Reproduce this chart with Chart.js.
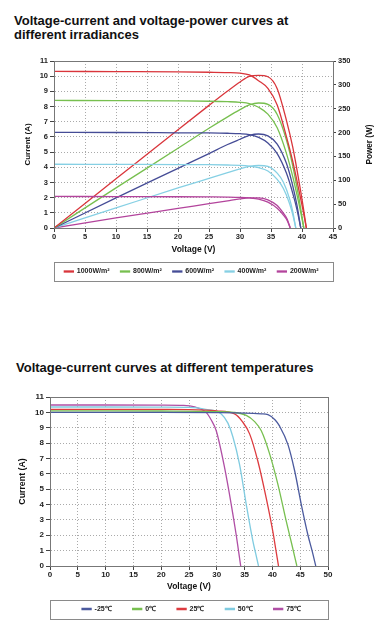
<!DOCTYPE html>
<html>
<head>
<meta charset="utf-8">
<script src="https://cdn.jsdelivr.net/npm/chart.js@4.4.1/dist/chart.umd.min.js"></script>
<style>
body { margin: 0; background: #fff; width: 383px; height: 630px; overflow: hidden; font-family: "Liberation Sans", Arial, sans-serif; }
.title { position: absolute; font-weight: bold; font-size: 13px; line-height: 13.5px; color: #111; white-space: nowrap; }
.box { position: absolute; left: 0; width: 383px; }
</style>
</head>
<body>
<div class="title" style="left:14px;top:14px">Voltage-current and voltage-power curves at<br>different irradiances</div>
<div class="box" style="top:45px;height:240px"><canvas id="irrChart"></canvas></div>
<div class="title" style="left:16px;top:361px">Voltage-current curves at different temperatures</div>
<div class="box" style="top:385px;height:240px"><canvas id="tempChart"></canvas></div>

<script>
// ---- irradiance chart data (voltage V, current A, power W) ----
const irrLabels = ["1000W/m²", "800W/m²", "600W/m²", "400W/m²", "200W/m²"];
const irrColors = ["#d9353b", "#77bf4f", "#454c96", "#86d0e4", "#b3449c"];

const v1000 = [0, 10, 20, 25, 28, 30, 31.5, 33, 34.5, 36, 37.5, 38.5, 39.5, 40.2, 40.7];
const i1000 = [10.32, 10.3, 10.28, 10.26, 10.24, 10.2, 10.08, 9.7, 9.2, 8.1, 6.0, 4.4, 2.5, 1.1, 0];
const p1000 = [0, 103, 206, 257, 287, 306, 318, 320, 317, 292, 225, 170, 99, 44, 0];

const v800 = [0, 10, 20, 25, 28, 30, 31.5, 33, 34.5, 36, 37.5, 38.5, 39.5, 40.3];
const i800 = [8.4, 8.39, 8.37, 8.35, 8.32, 8.28, 8.2, 7.95, 7.5, 6.6, 4.9, 3.4, 1.6, 0];
const p800 = [0, 84, 167, 209, 233, 248, 258, 262, 259, 238, 184, 131, 63, 0];

const v600 = [0, 10, 20, 25, 28, 30, 31.5, 33, 34.5, 36, 37.5, 38.5, 39.2, 39.8];
const i600 = [6.3, 6.29, 6.27, 6.26, 6.24, 6.21, 6.15, 5.97, 5.6, 4.9, 3.6, 2.3, 1.2, 0];
const p600 = [0, 63, 125, 156, 175, 186, 194, 197, 193, 176, 135, 89, 47, 0];

const v400 = [0, 10, 20, 25, 28, 30, 31.5, 33, 34.5, 36, 37, 38, 38.5, 39];
const i400 = [4.2, 4.19, 4.18, 4.17, 4.15, 4.13, 4.08, 3.97, 3.75, 3.2, 2.6, 1.6, 0.9, 0];
const p400 = [0, 42, 84, 104, 116, 124, 129, 131, 129, 115, 96, 61, 35, 0];

const v200 = [0, 10, 20, 25, 28, 30, 31.5, 33, 34.5, 36, 37, 37.6, 38.1];
const i200 = [2.08, 2.07, 2.06, 2.05, 2.04, 2.02, 1.98, 1.9, 1.7, 1.3, 0.85, 0.5, 0];
const p200 = [0, 21, 41, 51, 57, 61, 63, 63, 59, 47, 31, 19, 0];

// ---- temperature chart data ----
const tempLabels = ["-25℃", "0℃", "25℃", "50℃", "75℃"];
const tempColors = ["#4b5a9e", "#77bf4f", "#dd3b3f", "#7fcbe0", "#b04fa5"];

const vMinus25 = [0, 10, 20, 30, 35, 38, 39.2, 40.5, 41.3, 42.8, 44.0, 45.2, 46.4, 47.2, 47.8];
const iMinus25 = [10.0, 10.0, 10.0, 9.98, 9.95, 9.9, 9.85, 9.5, 9.1, 7.9, 6.2, 4.0, 2.0, 0.9, 0];
const v0 = [0, 10, 20, 30, 33, 35.3, 36.8, 38.0, 39.5, 41.0, 42.5, 43.5, 44.4];
const i0 = [10.1, 10.1, 10.09, 10.05, 10.0, 9.8, 9.4, 8.8, 7.3, 5.3, 2.9, 1.4, 0];
const v25 = [0, 10, 20, 25, 30, 33.2, 34.6, 35.9, 37.4, 38.9, 40.1, 40.6, 41.1];
const i25 = [10.2, 10.2, 10.19, 10.18, 10.1, 9.9, 9.4, 8.6, 6.8, 4.4, 2.2, 1.1, 0];
const v50 = [0, 10, 20, 25, 28, 30.8, 32.0, 32.9, 34.1, 35.3, 36.5, 37.0, 37.5];
const i50 = [10.35, 10.35, 10.34, 10.32, 10.2, 9.9, 9.3, 8.4, 6.6, 4.0, 1.6, 0.8, 0];
const v75 = [0, 10, 20, 24, 26, 28.1, 29.0, 29.9, 31.4, 32.6, 33.5, 33.9, 34.3];
const i75 = [10.48, 10.48, 10.47, 10.45, 10.35, 10.0, 9.5, 8.8, 6.4, 4.0, 2.0, 1.0, 0];

const FONT = "'Liberation Sans', Arial, sans-serif";

function pts(xs, ys) {
    return xs.map((x, k) => ({ x: x, y: ys[k] }));
}

function line(label, color, data, axis) {
    return {
        label: label,
        data: data,
        yAxisID: axis,
        borderColor: color,
        backgroundColor: color,
        borderWidth: 1.3,
        pointRadius: 0,
        fill: false,
        cubicInterpolationMode: 'monotone'
    };
}

// frame round the plot, box round the legend, rotated right title
const extras = {
    id: 'extras',
    afterDraw(chart, args, opts) {
        const ctx = chart.ctx;
        const a = chart.chartArea;
        ctx.save();
        ctx.strokeStyle = '#777';
        ctx.lineWidth = 1;
        ctx.strokeRect(a.left + 0.5, a.top + 0.5, a.right - a.left, a.bottom - a.top);

        const boxes = chart.legend.legendHitBoxes;
        if (boxes && boxes.length) {
            const top = boxes[0].top - 6;
            const h = boxes[0].height + 12;
            ctx.strokeStyle = '#8a8a8a';
            ctx.strokeRect(a.left + 0.5, Math.round(top) + 0.5, a.right - a.left, Math.round(h));
        }
        if (opts.rightTitle) {
            ctx.translate(opts.rightX, (a.top + a.bottom) / 2);
            ctx.rotate(-Math.PI / 2);
            ctx.fillStyle = '#111';
            ctx.font = "bold 8.2px " + FONT;
            ctx.textAlign = 'center';
            ctx.textBaseline = 'middle';
            ctx.fillText(opts.rightTitle, 0, 0);
        }
        ctx.restore();
    }
};

function axisX(max, height, titlePad, size) {
    return {
        type: 'linear', min: 0, max: max,
        afterFit: s => { s.height = height; },
        ticks: { stepSize: 5, padding: 0, color: '#222', font: { size: size, weight: 'bold', family: FONT } },
        grid: { color: '#aaa', tickColor: '#444', tickLength: 4 },
        border: { color: '#444', dash: [1, 2] },
        title: { display: true, text: 'Voltage (V)', color: '#111', font: { size: 8.5, weight: 'bold', family: FONT }, padding: { top: 0, bottom: titlePad } }
    };
}

function axisI(width, titlePad, size, titleSize) {
    return {
        type: 'linear', position: 'left', min: 0, max: 11,
        afterFit: s => { s.width = width; },
        ticks: { stepSize: 1, padding: 2, color: '#222', font: { size: size, weight: 'bold', family: FONT } },
        grid: { color: '#aaa', tickColor: '#444', tickLength: 4 },
        border: { color: '#444', dash: [1, 2] },
        title: { display: true, text: 'Current (A)', color: '#111', font: { size: titleSize, weight: 'bold', family: FONT }, padding: { top: titlePad, bottom: 0 } }
    };
}

function legendOpts(pad) {
    return {
        position: 'bottom',
        labels: {
            boxWidth: 9, boxHeight: 1, padding: pad, color: '#222',
            font: { size: 7, weight: 'bold', family: FONT },
            filter: item => item.datasetIndex < 5
        }
    };
}

function renderIrradiance() {
    const volts = [v1000, v800, v600, v400, v200];
    const amps = [i1000, i800, i600, i400, i200];
    const watts = [p1000, p800, p600, p400, p200];
    const sets = [];
    irrLabels.forEach((lab, k) => sets.push(line(lab, irrColors[k], pts(volts[k], amps[k]), 'y')));
    irrLabels.forEach((lab, k) => sets.push(line(lab + ' P', irrColors[k], pts(volts[k], watts[k]), 'y1')));

    new Chart(document.getElementById("irrChart"), {
        type: 'line',
        data: { datasets: sets },
        plugins: [extras],
        options: {
            responsive: true,
            maintainAspectRatio: false,
            animation: false,
            layout: { padding: { top: 16, bottom: 0, left: 0, right: 0 } },
            plugins: {
                legend: legendOpts(11),
                tooltip: { enabled: false },
                extras: { rightTitle: 'Power (W)', rightX: 370 }
            },
            scales: {
                x: axisX(45, 29, 2, 7.5),
                y: axisI(54, 23, 7.5, 8),
                y1: {
                    type: 'linear', position: 'right', min: 0, max: 350,
                    afterFit: s => { s.width = 50; },
                    ticks: { stepSize: 50, padding: 2, color: '#222', font: { size: 7.5, weight: 'bold', family: FONT } },
                    grid: { drawOnChartArea: false, tickColor: '#444', tickLength: 3 },
                    border: { color: '#444' }
                }
            }
        }
    });
}

function renderTemperature() {
    const volts = [vMinus25, v0, v25, v50, v75];
    const amps = [iMinus25, i0, i25, i50, i75];
    const sets = tempLabels.map((lab, k) => line(lab, tempColors[k], pts(volts[k], amps[k]), 'y'));

    new Chart(document.getElementById("tempChart"), {
        type: 'line',
        data: { datasets: sets },
        plugins: [extras],
        options: {
            responsive: true,
            maintainAspectRatio: false,
            animation: false,
            layout: { padding: { top: 12, bottom: 2.5, left: 0, right: 0 } },
            plugins: {
                legend: legendOpts(21),
                tooltip: { enabled: false },
                extras: {}
            },
            scales: {
                x: axisX(50, 18.5, -7.6, 8),
                y: axisI(50, 17, 8, 8.8),
                // empty right-hand strip so the plot ends where the reference does
                yPad: {
                    type: 'linear', position: 'right', min: 0, max: 11,
                    afterFit: s => { s.width = 55; },
                    ticks: { display: false },
                    grid: { display: false },
                    border: { display: false }
                }
            }
        }
    });
}

renderIrradiance();
renderTemperature();
</script>
</body>
</html>
